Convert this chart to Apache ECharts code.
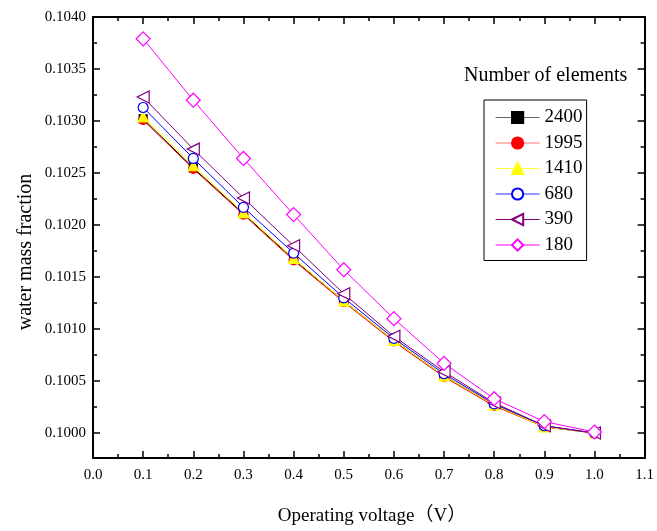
<!DOCTYPE html>
<html>
<head>
<meta charset="utf-8">
<script src="https://cdn.jsdelivr.net/npm/echarts@6/dist/echarts.min.js"></script>
<style>
  html, body { margin: 0; padding: 0; background: #fff; }
  #chart { width: 657px; height: 531px; }
</style>
</head>
<body>
<div id="chart"></div>
<script>
// Operating voltage (V)
const voltage = [0.1, 0.2, 0.3, 0.4, 0.5, 0.6, 0.7, 0.8, 0.9, 1.0];

// Water mass fraction for each mesh size (number of elements)
const mesh2400 = [0.10302, 0.10255, 0.10211, 0.10167, 0.10127, 0.10089, 0.10055, 0.10027, 0.10006, 0.10000];
const mesh1995 = [0.10301, 0.10254, 0.10210, 0.10166, 0.10126, 0.10088, 0.10054, 0.10026, 0.10006, 0.10000];
const mesh1410 = [0.10304, 0.10257, 0.10212, 0.10168, 0.10127, 0.10089, 0.10055, 0.10027, 0.10006, 0.10000];
const mesh680  = [0.10313, 0.10264, 0.10217, 0.10173, 0.10130, 0.10091, 0.10057, 0.10028, 0.10007, 0.10000];
const mesh390  = [0.10323, 0.10273, 0.10226, 0.10180, 0.10134, 0.10093, 0.10059, 0.10029, 0.10007, 0.10000];
const mesh180  = [0.10379, 0.10320, 0.10264, 0.10210, 0.10157, 0.10110, 0.10067, 0.10033, 0.10011, 0.10001];

// Axis ticks
const yMajorTicks = [0.1000, 0.1005, 0.1010, 0.1015, 0.1020, 0.1025, 0.1030, 0.1035, 0.1040];
const yMinorTicks = [0.09975, 0.10025, 0.10075, 0.10125, 0.10175, 0.10225, 0.10275, 0.10325, 0.10375];

const FONT = '"Liberation Serif", "Times New Roman", "Noto Sans CJK SC", serif';
const Y_MIN = 0.09976, Y_MAX = 0.1040;

function pairs(ys) { return voltage.map((x, i) => [x, ys[i]]); }

const seriesDefs = [
  { name: '2400', data: mesh2400, color: '#000000', symbol: 'rect', size: 8, fill: '#000000', legendLine: '#666666' },
  { name: '1995', data: mesh1995, color: '#ff0000', symbol: 'circle', size: 9, fill: '#ff0000', legendLine: '#ff7777' },
  { name: '1410', data: mesh1410, color: '#ffff00', symbol: 'triangle', size: 10, fill: '#ffff00', legendLine: '#ffff44' },
  { name: '680',  data: mesh680,  color: '#0000ff', symbol: 'circle', size: 10, fill: '#ffffff', legendLine: '#2233ff' },
  { name: '390',  data: mesh390,  color: '#800080', symbol: 'triangle', size: 12, fill: '#ffffff', rotate: 90, legendLine: '#800080' },
  { name: '180',  data: mesh180,  color: '#ff00ff', symbol: 'diamond', size: 14, fill: '#ffffff', legendLine: '#ff00ff' }
];

const axisLineStyle = { color: '#000', width: 2 };
const tickStyle = { color: '#000', width: 1.5 };

const chart = echarts.init(document.getElementById('chart'), null, { renderer: 'canvas' });

chart.setOption({
  backgroundColor: '#ffffff',
  animation: false,
  textStyle: { fontFamily: FONT },
  title: {
    text: 'Number of elements',
    left: 459,
    top: 61,
    textStyle: { fontFamily: FONT, fontSize: 20, fontWeight: 'normal', color: '#000' }
  },
  legend: {
    orient: 'vertical',
    left: 484,
    top: 100,
    padding: [8, 4, 6, 11],
    itemWidth: 44,
    itemHeight: 14,
    itemGap: 6.5,
    borderColor: '#000',
    borderWidth: 1,
    backgroundColor: '#fff',
    textStyle: { fontFamily: FONT, fontSize: 19, color: '#000' },
    data: seriesDefs.map(s => ({ name: s.name, lineStyle: { color: s.legendLine, width: 1.2 } }))
  },
  graphic: [
    {
      type: 'text',
      x: 26, y: 252,
      rotation: Math.PI / 2,
      style: { text: 'water mass fraction', font: '20px ' + FONT, fill: '#000', align: 'center', verticalAlign: 'middle' }
    },
    {
      type: 'text',
      x: 372, y: 516,
      style: { text: 'Operating voltage（V）', font: '19px ' + FONT, fill: '#000', align: 'center', verticalAlign: 'middle' }
    }
  ],
  grid: { left: 93, right: 11, top: 17, bottom: 73, containLabel: false },
  xAxis: [
    {
      type: 'value', position: 'bottom', min: 0, max: 1.1, interval: 0.1,
      axisLine: { show: true, lineStyle: axisLineStyle },
      axisTick: { show: true, inside: true, length: 7, lineStyle: tickStyle },
      minorTick: { show: true, splitNumber: 2, length: 4, lineStyle: tickStyle },
      axisLabel: { margin: 10, fontFamily: FONT, fontSize: 15, color: '#000', formatter: v => v.toFixed(1) },
      splitLine: { show: false }
    },
    {
      type: 'value', position: 'top', min: 0, max: 1.1, interval: 0.1,
      axisLine: { show: true, lineStyle: axisLineStyle },
      axisTick: { show: true, inside: true, length: 7, lineStyle: tickStyle },
      minorTick: { show: true, splitNumber: 2, length: 4, lineStyle: tickStyle },
      axisLabel: { show: false },
      splitLine: { show: false }
    }
  ],
  yAxis: [
    {
      type: 'value', position: 'left', min: Y_MIN, max: Y_MAX,
      axisLine: { show: true, lineStyle: axisLineStyle },
      axisTick: { show: true, inside: true, length: 7, customValues: yMajorTicks, lineStyle: tickStyle },
      axisLabel: { margin: 7, fontFamily: FONT, fontSize: 15, color: '#000', customValues: yMajorTicks, formatter: v => v.toFixed(4) },
      splitLine: { show: false }
    },
    {
      type: 'value', position: 'left', min: Y_MIN, max: Y_MAX,
      axisLine: { show: false },
      axisTick: { show: true, inside: true, length: 4, customValues: yMinorTicks, lineStyle: tickStyle },
      axisLabel: { show: false, customValues: yMinorTicks },
      splitLine: { show: false }
    },
    {
      type: 'value', position: 'right', min: Y_MIN, max: Y_MAX,
      axisLine: { show: true, lineStyle: axisLineStyle },
      axisTick: { show: true, inside: true, length: 7, customValues: yMajorTicks, lineStyle: tickStyle },
      axisLabel: { show: false, customValues: yMajorTicks },
      splitLine: { show: false }
    },
    {
      type: 'value', position: 'right', min: Y_MIN, max: Y_MAX,
      axisLine: { show: false },
      axisTick: { show: true, inside: true, length: 4, customValues: yMinorTicks, lineStyle: tickStyle },
      axisLabel: { show: false, customValues: yMinorTicks },
      splitLine: { show: false }
    }
  ],
  series: seriesDefs.map(s => ({
    name: s.name,
    type: 'line',
    xAxisIndex: 0,
    yAxisIndex: 0,
    data: pairs(s.data),
    symbol: s.symbol,
    symbolSize: s.size,
    symbolRotate: s.rotate || 0,
    showAllSymbol: true,
    lineStyle: { color: s.color, width: 1 },
    itemStyle: { color: s.fill, borderColor: s.color, borderWidth: 1.2, opacity: 1 },
    emphasis: { disabled: true }
  }))
});
</script>
</body>
</html>
